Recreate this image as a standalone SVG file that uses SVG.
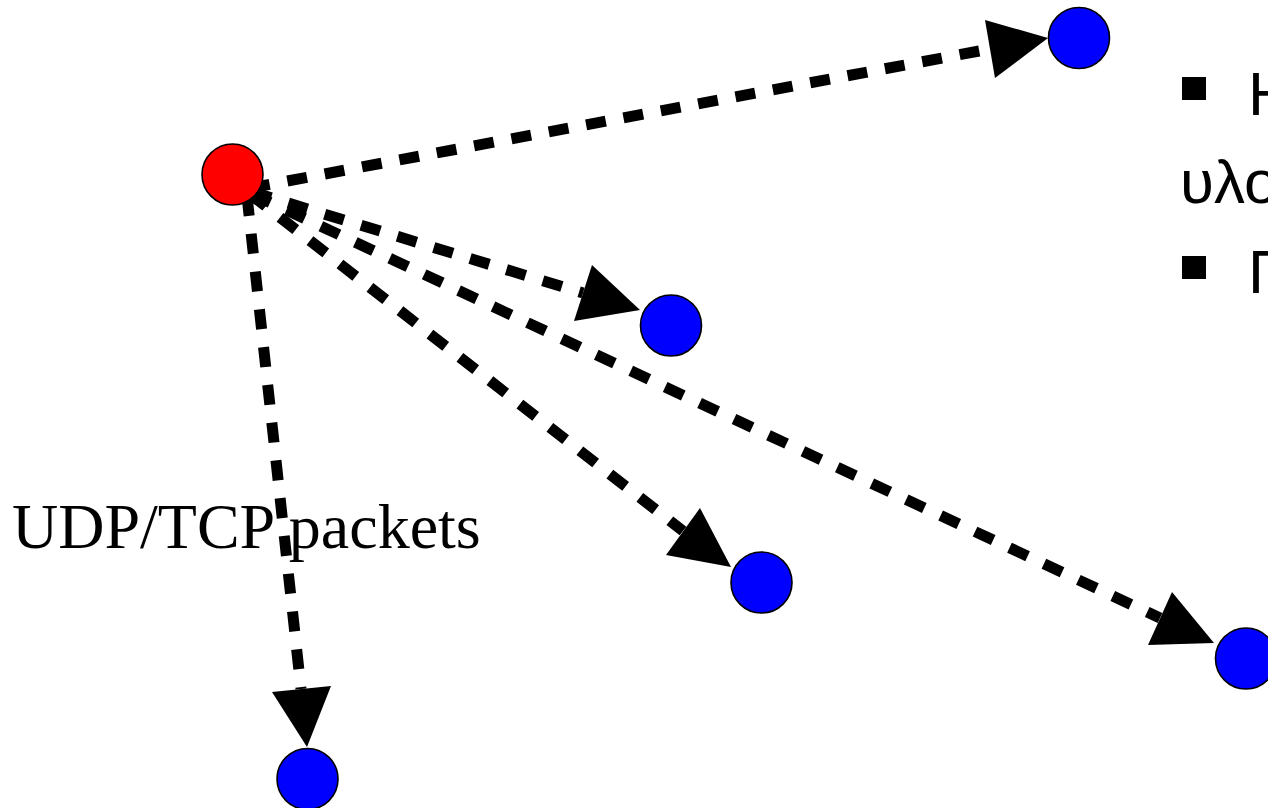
<svg xmlns="http://www.w3.org/2000/svg" width="1268" height="808" viewBox="0 0 1268 808">
<style>
.edge{fill:none;stroke:#000;stroke-width:11;stroke-dasharray:20 18;stroke-linecap:butt}
.head{fill:#000;stroke:none}
.node{stroke:#000;stroke-width:1.6}
.blue{fill:#0000ff}
.red{fill:#ff0000}
.greek{font-family:"Liberation Sans","DejaVu Sans",sans-serif;font-size:62px;fill:#000}
.label{font-family:"Liberation Serif","Times New Roman",serif;font-size:64px;fill:#000}
</style>
<rect width="1268" height="808" fill="#fff"/>
<g id="connectors">
  <line class="edge" x1="250" y1="188" x2="990" y2="49"/>
  <polygon class="head" points="1048,38 985,20 995,78"/>
  <line class="edge" x1="252" y1="192" x2="583" y2="293"/>
  <polygon class="head" points="640,310 592,265 574,321"/>
  <line class="edge" x1="250" y1="194" x2="683" y2="531"/>
  <polygon class="head" points="731,567 700,508 666,555"/>
  <line class="edge" x1="252" y1="194" x2="1160" y2="618"/>
  <polygon class="head" points="1214,643 1172,592 1148,645"/>
  <line class="edge" x1="247" y1="196" x2="301" y2="689"/>
  <polygon class="head" points="307,747 272,692 331,686"/>
</g>
<g id="source"><circle class="node red" cx="232.5" cy="174.5" r="30.5"/></g>
<g id="n1"><circle class="node blue" cx="1079" cy="38" r="30.5"/></g>
<g id="n2"><circle class="node blue" cx="671" cy="325.5" r="30.5"/></g>
<g id="n3"><circle class="node blue" cx="761.5" cy="582.5" r="30.5"/></g>
<g id="n4"><circle class="node blue" cx="1246" cy="658.5" r="30.5"/></g>
<g id="n5"><circle class="node blue" cx="307.5" cy="779" r="30.5"/></g>
<g id="label"><text class="label" x="12" y="548">UDP/TCP packets</text></g>
<g id="bullets">
  <rect x="1182" y="77" width="24" height="23" fill="#000"/>
  <text class="greek" x="1248" y="115">Η</text>
  <text class="greek" x="1180" y="203">υλο</text>
  <rect x="1182" y="256" width="24" height="23" fill="#000"/>
  <text class="greek" x="1248" y="293">Γ</text>
</g>
</svg>
